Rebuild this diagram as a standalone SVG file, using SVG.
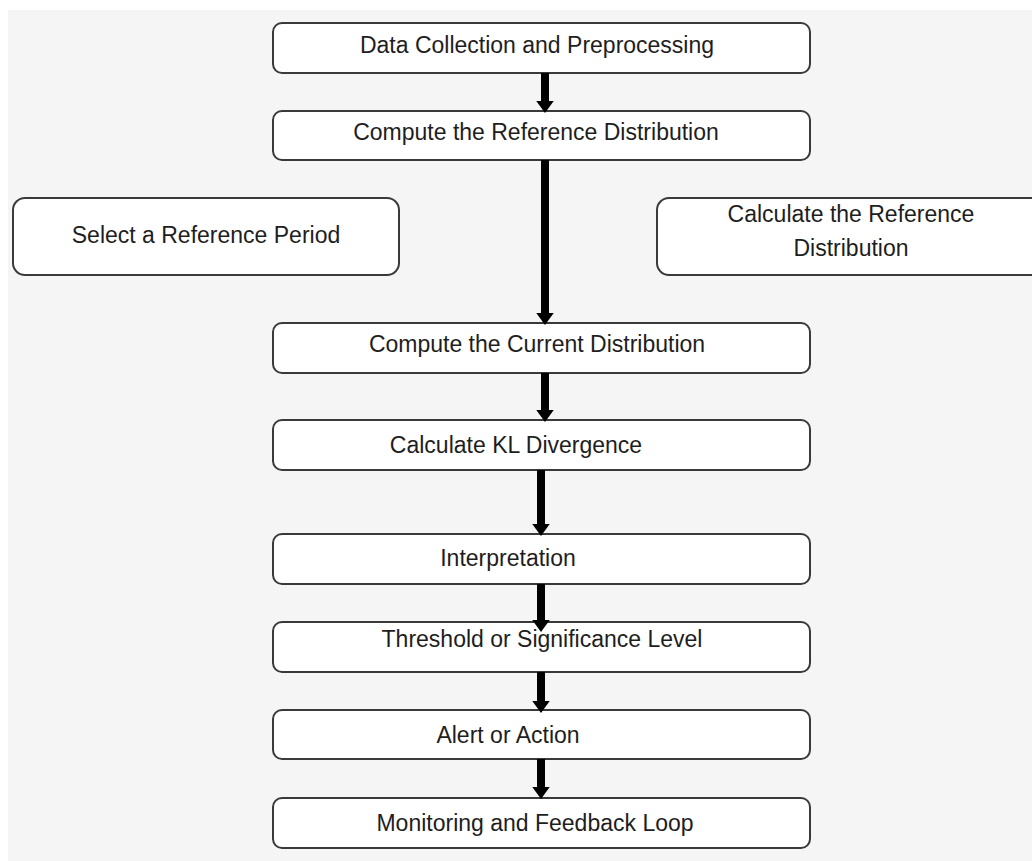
<svg xmlns="http://www.w3.org/2000/svg" width="1032" height="861" viewBox="0 0 1032 861">
  <defs>
    <style>
      .box { fill: #ffffff; stroke: #3a3a3a; stroke-width: 2; }
      .lbl { font-family: "Liberation Sans", Arial, sans-serif; font-size: 23px; fill: #1e1e1e; text-anchor: middle; }
      .flow { stroke: #000000; stroke-width: 8; fill: none; marker-end: url(#head); }
    </style>
    <marker id="head" markerUnits="userSpaceOnUse" markerWidth="12" markerHeight="18" refX="0" refY="8" orient="auto" viewBox="0 0 11 16">
      <path d="M0,0 L11,8 L0,16 z" fill="#000000"/>
    </marker>
  </defs>

  <rect x="0" y="0" width="1032" height="861" fill="#ffffff"/>
  <rect x="8" y="10" width="1024" height="851" fill="#f5f5f5"/>

  <g id="data-collection">
    <rect class="box" x="273" y="23" width="537" height="50" rx="9"/>
    <text class="lbl" x="537" y="53">Data Collection and Preprocessing</text>
  </g>
  <g id="compute-reference">
    <rect class="box" x="273" y="111" width="537" height="49" rx="9"/>
    <text class="lbl" x="536" y="140">Compute the Reference Distribution</text>
  </g>
  <g id="select-period">
    <rect class="box" x="13" y="198" width="386" height="77" rx="12"/>
    <text class="lbl" x="206" y="243">Select a Reference Period</text>
  </g>
  <g id="calculate-reference">
    <rect class="box" x="657" y="198" width="390" height="77" rx="12"/>
    <text class="lbl" x="851" y="222">Calculate the Reference</text>
    <text class="lbl" x="851" y="256">Distribution</text>
  </g>
  <g id="compute-current">
    <rect class="box" x="273" y="323" width="537" height="50" rx="9"/>
    <text class="lbl" x="537" y="352">Compute the Current Distribution</text>
  </g>
  <g id="kl-divergence">
    <rect class="box" x="273" y="420" width="537" height="50" rx="9"/>
    <text class="lbl" x="516" y="453">Calculate KL Divergence</text>
  </g>
  <g id="interpretation">
    <rect class="box" x="273" y="534" width="537" height="50" rx="9"/>
    <text class="lbl" x="508" y="566">Interpretation</text>
  </g>
  <g id="threshold">
    <rect class="box" x="273" y="622" width="537" height="50" rx="9"/>
    <text class="lbl" x="542" y="647">Threshold or Significance Level</text>
  </g>
  <g id="alert">
    <rect class="box" x="273" y="710" width="537" height="49" rx="9"/>
    <text class="lbl" x="508" y="743">Alert or Action</text>
  </g>
  <g id="monitoring">
    <rect class="box" x="273" y="798" width="537" height="50" rx="9"/>
    <text class="lbl" x="535" y="831">Monitoring and Feedback Loop</text>
  </g>

  <g id="connectors">
    <line class="flow" x1="545" y1="73" x2="545" y2="101"/>
    <line class="flow" x1="545" y1="160" x2="545" y2="313"/>
    <line class="flow" x1="545" y1="373" x2="545" y2="410"/>
    <line class="flow" x1="541" y1="470" x2="541" y2="524"/>
    <line class="flow" x1="541" y1="584" x2="541" y2="620"/>
    <line class="flow" x1="541" y1="672" x2="541" y2="701"/>
    <line class="flow" x1="541" y1="759" x2="541" y2="787"/>
  </g>
</svg>
